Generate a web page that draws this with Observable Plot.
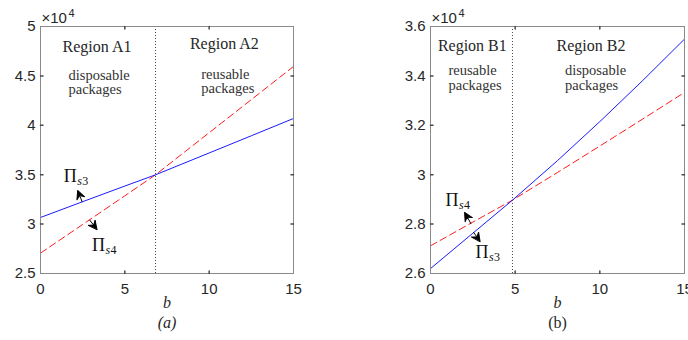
<!DOCTYPE html>
<html><head><meta charset="utf-8">
<script src="https://cdn.jsdelivr.net/npm/d3@7"></script>
<script src="https://cdn.jsdelivr.net/npm/@observablehq/plot@0.6"></script>
<style>
html,body{margin:0;padding:0;background:#fff;overflow:hidden;}
#wrap{display:flex;width:688px;height:340px;}
</style></head><body><div id="wrap"></div>
<script>
// ---- Panel (a) data ----
const bA = [0, 2.5, 5, 6.82, 10, 12.5, 15];
const piS3A = [30670, 32270, 33850, 34990, 37200, 38940, 40690];
const piS4A = [27060, 29960, 32860, 34990, 39250, 42600, 45950];
const splitA = 6.82;
const yTicksA = [25000, 30000, 35000, 40000, 45000, 50000];
// ---- Panel (b) data ----
const bB = [0, 2.5, 4.84, 7.5, 10, 12.5, 15];
const piS3B = [26200, 27630, 28970, 30570, 32150, 33790, 35490];
const piS4B = [27120, 28080, 28970, 30090, 31160, 32240, 33330];
const splitB = 4.84;
const yTicksB = [26000, 28000, 30000, 32000, 34000, 36000];
const xTicks = [0, 5, 10, 15];

// annotations (data coordinates)
const regionA = [
  {b: 3.35, v: 47950, t: "Region A1"},
  {b: 10.9, v: 48220, t: "Region A2"}
];
const notesA = [
  {b: 1.66, v: 45100, t: "disposable"},
  {b: 1.66, v: 43600, t: "packages"},
  {b: 9.53, v: 45200, t: "reusable"},
  {b: 9.53, v: 43740, t: "packages"}
];
const regionB = [
  {b: 2.47, v: 35210, t: "Region B1"},
  {b: 9.48, v: 35210, t: "Region B2"}
];
const notesB = [
  {b: 1.06, v: 34210, t: "reusable"},
  {b: 1.06, v: 33620, t: "packages"},
  {b: 7.94, v: 34210, t: "disposable"},
  {b: 7.94, v: 33620, t: "packages"}
];
const piA = [
  {b: 1.38, v: 34280, s: "s", n: "3"},
  {b: 3.06, v: 27230, s: "s", n: "4"}
];
const piB = [
  {b: 0.88, v: 28740, s: "s", n: "4"},
  {b: 2.66, v: 26610, s: "s", n: "3"}
];
const arrowsA = [
  {b1: 2.47, v1: 32260, b2: 2.11, v2: 33780},
  {b1: 2.92, v1: 30400, b2: 3.49, v2: 29150}
];
const arrowsB = [
  {b1: 2.39, v1: 28020, b2: 1.90, v2: 28610},
  {b1: 2.55, v1: 27660, b2: 3.04, v2: 27190}
];

const SANS = "Liberation Sans, Arial, sans-serif";
const SERIF = "Liberation Serif, Times New Roman, serif";

const tickShape = {draw(ctx, l) { ctx.moveTo(0, 0); ctx.lineTo(0, -l); }};
const arrowShape = {draw(ctx, l) {
  const h = 8.5, w = 4.2;
  ctx.moveTo(0, 0); ctx.lineTo(0, -l + h * 0.6);
  ctx.moveTo(0, -l);
  ctx.lineTo(-w, -l + h);
  ctx.lineTo(0, -l + h * 0.65);
  ctx.lineTo(w, -l + h);
  ctx.closePath();
}};

function panel(cfg) {
  const W = 344, H = 340, mt = 26, mb = 67;
  const sx = Plot.scale({x: {domain: [0, 15], range: [cfg.ml, W - cfg.mr]}});
  const sy = Plot.scale({y: {domain: cfg.yDomain, range: [H - mb, mt]}});
  const arrows = cfg.arrows.map(a => {
    const dx = sx.apply(a.b2) - sx.apply(a.b1);
    const dy = sy.apply(a.v2) - sy.apply(a.v1);
    return {...a, rot: Math.atan2(dx, -dy) * 180 / Math.PI, len: Math.hypot(dx, dy)};
  });
  const s3 = cfg.b.map((b, i) => ({b, v: cfg.s3[i]}));
  const s4 = cfg.b.map((b, i) => ({b, v: cfg.s4[i]}));
  const [y0, y1] = cfg.yDomain;
  const innerY = cfg.yTicks.filter(t => t > y0 && t < y1);
  const innerX = xTicks.filter(t => t > 0 && t < 15);
  const tickCol = "#4a4a4a";
  return Plot.plot({
    width: W, height: H,
    marginLeft: cfg.ml, marginRight: cfg.mr, marginTop: mt, marginBottom: mb,
    style: {fontFamily: SANS, fontSize: "15px", color: "#262626", background: "#fff", overflow: "visible"},
    x: {domain: [0, 15]},
    y: {domain: cfg.yDomain},
    marks: [
      Plot.ruleX([cfg.split], {stroke: "#444", strokeDasharray: "1,2", strokeWidth: 1}),
      Plot.line(s4, {x: "b", y: "v", stroke: "#ff1a1a", strokeWidth: 1, strokeDasharray: "7,4"}),
      Plot.line(s3, {x: "b", y: "v", stroke: "#1a1aff", strokeWidth: 1}),
      Plot.frame({stroke: "#8a8a8a", strokeWidth: 1}),
      // inward ticks on all four sides
      Plot.vector(innerX, {x: d => d, y: () => y0, length: 2.5, rotate: 0, anchor: "start", shape: tickShape, stroke: tickCol}),
      Plot.vector(innerX, {x: d => d, y: () => y1, length: 2.5, rotate: 180, anchor: "start", shape: tickShape, stroke: tickCol}),
      Plot.vector(innerY, {x: () => 0, y: d => d, length: 2.5, rotate: 90, anchor: "start", shape: tickShape, stroke: tickCol}),
      Plot.vector(innerY, {x: () => 15, y: d => d, length: 2.5, rotate: -90, anchor: "start", shape: tickShape, stroke: tickCol}),
      Plot.axisX({ticks: xTicks, tickSize: 0, tickPadding: 10, label: null, tickFormat: d => String(d)}),
      Plot.axisY({ticks: cfg.yTicks, tickSize: 0, tickPadding: 5, label: null, tickFormat: d => String(d / 1e4)}),
      Plot.text(["×10"], {frameAnchor: "top-left", text: d => d, dx: 1, dy: -4, lineAnchor: "bottom", textAnchor: "start", fontSize: 15}),
      Plot.text(["4"], {frameAnchor: "top-left", text: d => d, dx: 28, dy: -10, lineAnchor: "bottom", textAnchor: "start", fontSize: 11}),
      Plot.text(cfg.regions, {x: "b", y: "v", text: "t", fontFamily: SERIF, fontSize: 16, fill: "#262626", textAnchor: "middle"}),
      Plot.text(cfg.notes, {x: "b", y: "v", text: "t", fontFamily: SERIF, fontSize: 14.5, fill: "#333", textAnchor: "start"}),
      Plot.text(cfg.pi, {x: "b", y: "v", text: () => "Π", fontFamily: SERIF, fontSize: 18, fill: "#111", textAnchor: "start", lineAnchor: "bottom"}),
      Plot.text(cfg.pi, {x: "b", y: "v", text: "s", dx: 13.5, dy: 3, fontFamily: SERIF, fontStyle: "italic", fontSize: 12, fill: "#111", textAnchor: "start", lineAnchor: "bottom"}),
      Plot.text(cfg.pi, {x: "b", y: "v", text: "n", dx: 18.5, dy: 3, fontFamily: SERIF, fontSize: 12, fill: "#111", textAnchor: "start", lineAnchor: "bottom"}),
      Plot.vector(arrows, {x: "b1", y: "v1", length: "len", rotate: "rot", anchor: "start", shape: arrowShape, stroke: "#000", fill: "#000", strokeWidth: 0.9}),
      Plot.text(["b"], {frameAnchor: "bottom", text: d => d, dy: 34, fontFamily: SERIF, fontStyle: "italic", fontSize: 16, fill: "#262626"}),
      Plot.text([cfg.caption], {frameAnchor: "bottom", text: d => d, dy: 54, fontFamily: SERIF, fontStyle: cfg.capStyle, fontSize: 16, fill: "#262626"})
    ]
  });
}

const wrap = document.getElementById("wrap");
wrap.append(panel({ml: 40, mr: 51, b: bA, s3: piS3A, s4: piS4A, split: splitA, yDomain: [25000, 50000], yTicks: yTicksA,
  regions: regionA, notes: notesA, pi: piA, arrows: arrowsA, caption: "(a)", capStyle: "italic"}));
wrap.append(panel({ml: 86, mr: 4, b: bB, s3: piS3B, s4: piS4B, split: splitB, yDomain: [26000, 36000], yTicks: yTicksB,
  regions: regionB, notes: notesB, pi: piB, arrows: arrowsB, caption: "(b)", capStyle: "normal"}));
</script></body></html>
